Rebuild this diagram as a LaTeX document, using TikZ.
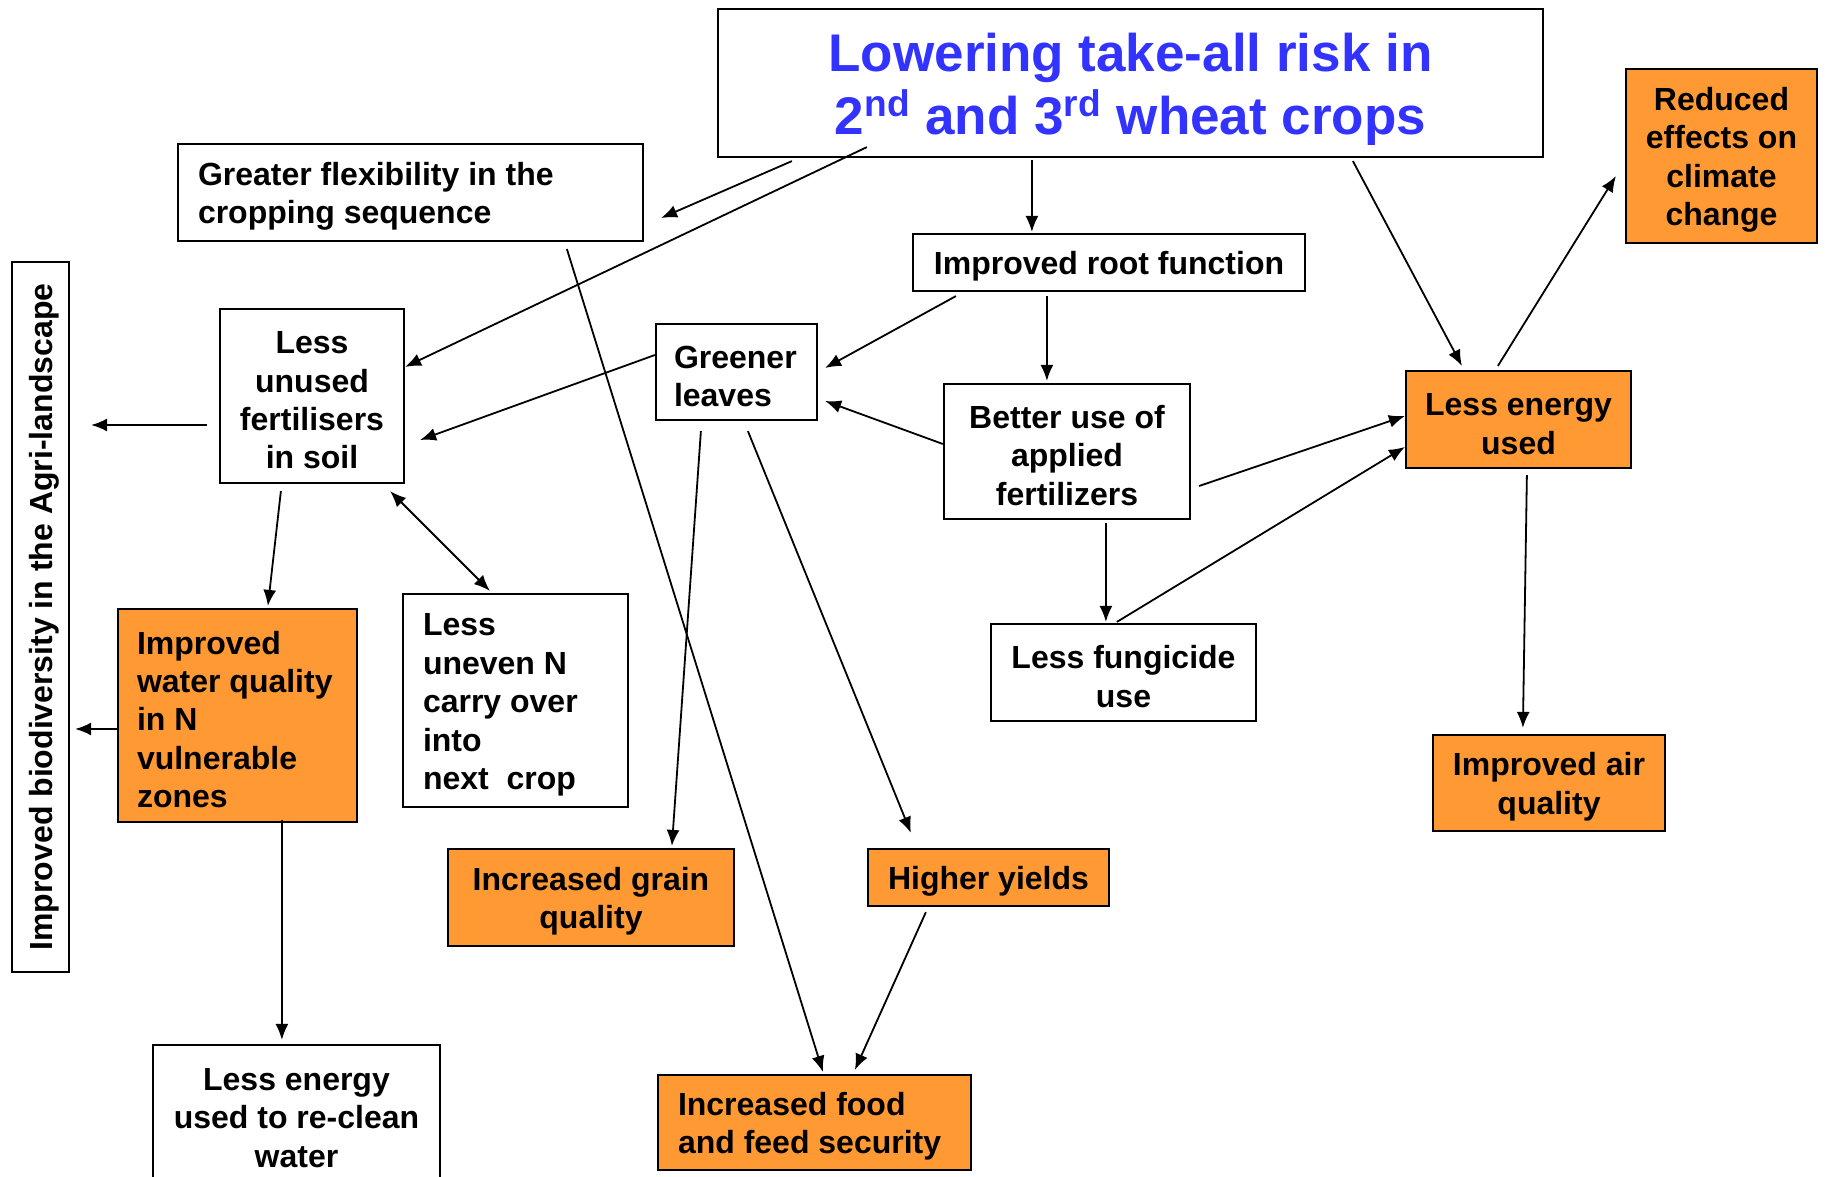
\documentclass[tikz,border=0pt]{standalone}
\usepackage{fontspec}
\setmainfont{Liberation Sans}
\usetikzlibrary{arrows.meta,calc}
\definecolor{orng}{RGB}{255,153,51}
\definecolor{ttlblue}{RGB}{51,51,255}
\begin{document}
\begin{tikzpicture}[x=0.5pt,y=-0.5pt,
  box/.style={draw, line width=1.1pt, inner sep=0pt, align=flush center,
    font=\fontsize{16}{19.2}\selectfont\bfseries,
    execute at begin node={\rule{0pt}{15.5pt}}},
  obox/.style={box, fill=orng},
  sz/.style 2 args={minimum width=#1, minimum height=#2, text width=#1},
  lft/.style 2 args={align=flush left, inner xsep=#1, text width=#2},
  arr/.style={-{Latex[length=8pt,width=6.5pt]}, line width=0.9pt},
  darr/.style={{Latex[length=8pt,width=6.5pt]}-{Latex[length=8pt,width=6.5pt]}, line width=0.9pt}]
\useasboundingbox (0,0) rectangle (1826,1177);
\fill[white] (0,0) rectangle (1826,1177);

% nodes
\node[box, sz={412.5pt}{74pt}, text=ttlblue,
  font=\fontsize{26.5}{31.5}\selectfont\bfseries,
  execute at begin node={\rule{0pt}{25.5pt}}] (title) at (1130.5,83)
  {Lowering take-all risk in\\2\textsuperscript{nd} and 3\textsuperscript{rd} wheat crops};
\node[box, sz={232.5pt}{48.5pt}, lft={10pt}{212.5pt}] (flex) at (410.5,192.5)
  {Greater flexibility in the\\cropping sequence};
\node[box, sz={196pt}{28.5pt}] (root) at (1109,262.5) {Improved root function};
\node[obox, sz={95.5pt}{87pt}] (reduced) at (1721.5,156)
  {Reduced\\effects on\\climate\\change};
\node[box, rotate=90, sz={355pt}{28.5pt}] (bio) at (40.5,617)
  {Improved biodiversity in the Agri-landscape};
\node[box, sz={92pt}{87pt}] (unused) at (312,396)
  {Less\\unused\\fertilisers\\in soil};
\node[box, sz={80.5pt}{48pt}, lft={9pt}{62.5pt}] (greener) at (736.5,372)
  {Greener\\leaves};
\node[box, sz={123pt}{67.5pt}] (better) at (1067,451.5)
  {Better use of\\applied\\fertilizers};
\node[obox, sz={112.5pt}{48.5pt}] (energy) at (1518.5,419.5)
  {Less energy\\used};
\node[obox, sz={119.5pt}{106.5pt}, lft={9.5pt}{100.5pt}] (water) at (237.5,715.5)
  {Improved\\water quality\\in N\\vulnerable\\zones};
\node[box, sz={112.5pt}{106.5pt}, lft={10pt}{92.5pt}] (uneven) at (515.5,700.5)
  {Less\\uneven N\\carry over\\into\\next\ \ crop};
\node[box, sz={132.5pt}{48.5pt}] (fung) at (1123.5,672.5)
  {Less fungicide\\use};
\node[obox, sz={116pt}{48pt}] (air) at (1549,783)
  {Improved air\\quality};
\node[obox, sz={143pt}{48.5pt}] (grain) at (591,897.5)
  {Increased grain\\quality};
\node[obox, sz={120.5pt}{28.5pt}] (yields) at (988.5,877.5)
  {Higher yields};
\node[box, sz={143.5pt}{68.5pt}] (reclean) at (296.5,1113.5)
  {Less energy\\used to re-clean\\water};
\node[obox, sz={156.5pt}{47.5pt}, lft={10pt}{136.5pt}] (food) at (814.5,1122.5)
  {Increased food\\and feed security};

% connectors
\draw[arr] ($(title.south west)+(75,3)$) -- ($(flex.east)+(17,25.5)$);
\draw[arr] ($(title.south west)+(150,-11)$) -- ($(unused.north east)+(0,59)$);
\draw[arr] ($(title.south west)+(315,2)$) -- ($(root.north west)+(120,-1)$);
\draw[arr] ($(title.south west)+(636,3)$) -- ($(energy.north west)+(57,-4)$);
\draw[arr] ($(energy.north west)+(93,-4)$) -- ($(reduced.west)+(-9,20)$);
\draw[arr] ($(root.south west)+(44,4)$) -- ($(greener.east)+(7,-4)$);
\draw[arr] ($(root.south west)+(135,4)$) -- ($(better.north west)+(104,-2)$);
\draw[arr] ($(greener.west)+(0,-17)$) -- ($(unused.east)+(15,44)$);
\draw[arr] ($(better.west)+(0,-7.5)$) -- ($(greener.east)+(7,29)$);
\draw[arr] ($(better.east)+(8,34.5)$) -- ($(energy.west)+(0,-3.5)$);
\draw[arr] ($(better.south west)+(163,3)$) -- ($(fung.north west)+(116,-1)$);
\draw[arr] ($(fung.north west)+(127,-1)$) -- ($(energy.west)+(0,27.5)$);
\draw[arr] ($(energy.south west)+(122,6)$) -- ($(air.north west)+(91,-6)$);
\draw[arr] ($(unused.west)+(-12,29)$) -- ($(bio.south)+(21,-192)$);
\draw[arr] ($(water.west)+(0,13.5)$) -- ($(bio.south)+(5,112)$);
\draw[arr] ($(unused.south west)+(62,7)$) -- ($(water.north west)+(151,-2)$);
\draw[darr] ($(unused.south east)+(-15,7)$) -- ($(uneven.north west)+(88,-2)$);
\draw[arr] ($(flex.south west)+(390,7)$) -- ($(food.north west)+(166,-2)$);
\draw[arr] ($(greener.south west)+(46,10)$) -- ($(grain.north west)+(225,-2)$);
\draw[arr] ($(greener.south west)+(93,10)$) -- ($(yields.north west)+(44,-15)$);
\draw[arr] ($(yields.south west)+(59,5)$) -- ($(food.north west)+(198,-4)$);
\draw[arr] ($(water.south west)+(165,-3)$) -- ($(reclean.north west)+(130,-4)$);
\end{tikzpicture}
\end{document}
